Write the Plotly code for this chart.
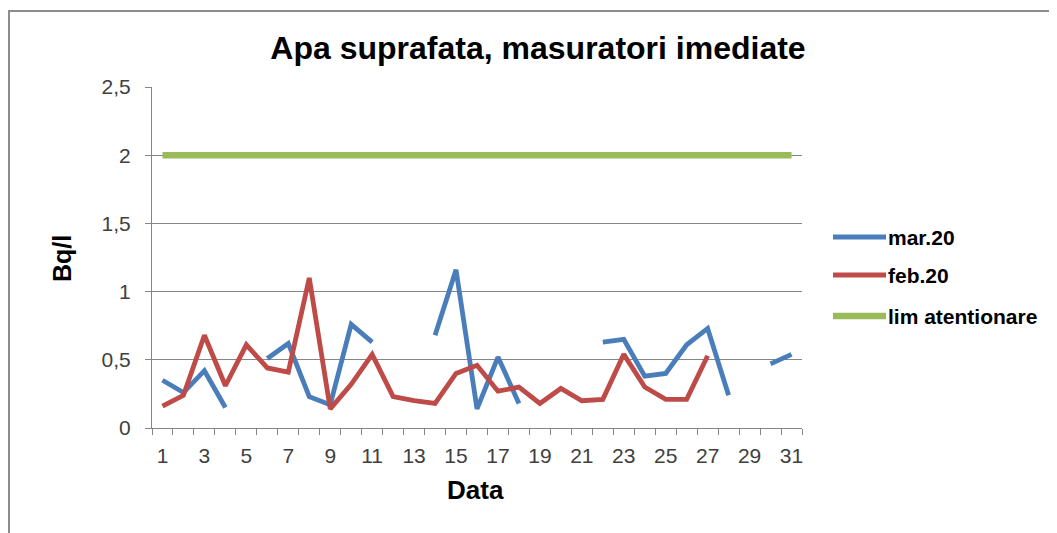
import plotly.graph_objects as go

# ---- data ----
days = list(range(1, 32))
tick_labels = [str(d) for d in range(1, 32, 2)]
mar20 = [0.35, 0.26, 0.42, 0.15, None, 0.51, 0.62, 0.23, 0.17, 0.76, 0.63, None, None, 0.68, 1.16,
         0.14, 0.52, 0.18, None, None, None, 0.63, 0.65, 0.38, 0.40, 0.61, 0.73, 0.24, None, 0.47, 0.54]
feb20 = [0.16, 0.24, 0.68, 0.31, 0.61, 0.44, 0.41, 1.10, 0.14, 0.32, 0.54, 0.23, 0.20, 0.18, 0.40,
         0.46, 0.27, 0.30, 0.18, 0.29, 0.20, 0.21, 0.54, 0.30, 0.21, 0.21, 0.53, None, None, None, None]
lim_atentionare = [2, 2, 2, 2, 2, 2, 2, 2, 2, 2, 2, 2, 2, 2, 2, 2, 2, 2, 2, 2, 2, 2, 2, 2, 2, 2, 2, 2, 2, 2, 2]

series_names = ["mar.20", "feb.20", "lim atentionare"]
series_values = [mar20, feb20, lim_atentionare]
series_colors = ["#4A7EBB", "#BE4B48", "#9BBB59"]
series_widths = [4.8, 4.8, 6.5]

# page has an 8px body margin, so figure coordinates = reference pixels - 8
OFF = 8
W, H = 1057 - 2 * OFF, 533 - OFF
L, R, T, B = 152 - OFF, 802 - OFF, 87 - OFF, 428 - OFF
FONT = "Arial, Liberation Sans, sans-serif"
GRID = "#868686"

fig = go.Figure()
for name, vals, col, w in zip(series_names, series_values, series_colors, series_widths):
    fig.add_trace(go.Scatter(x=days, y=vals, mode="lines", name=name,
                             line=dict(color=col, width=w), showlegend=False,
                             connectgaps=False))

def px_x(px):
    return (px - OFF - L) / (R - L)

def px_y(py):
    return (B - (py - OFF)) / (B - T)

shapes = [
    # outer chart frame
    dict(type="rect", xref="paper", yref="paper", x0=px_x(9), x1=px_x(1080), y0=px_y(11), y1=px_y(560),
         line=dict(color="#8C8C8C", width=2), fillcolor="rgba(0,0,0,0)", layer="below"),
]
annotations = []
legend_y = [237, 275, 316]
for name, col, w, ly in zip(series_names, series_colors, series_widths, legend_y):
    shapes.append(dict(type="line", xref="paper", yref="paper", x0=px_x(833), x1=px_x(886),
                       y0=px_y(ly), y1=px_y(ly), line=dict(color=col, width=w)))
    annotations.append(dict(xref="paper", yref="paper", x=px_x(886), y=px_y(ly), text="<b>%s</b>" % name,
                            showarrow=False, xanchor="left", yanchor="middle",
                            font=dict(family=FONT, size=21, color="#000000")))

annotations.append(dict(xref="paper", yref="paper", x=px_x(62), y=px_y(259), text="<b>Bq/l</b>",
                        textangle=-90, showarrow=False, xanchor="center", yanchor="middle",
                        font=dict(family=FONT, size=25, color="#000000")))
annotations.append(dict(xref="paper", yref="paper", x=px_x(475), y=px_y(490), text="<b>Data</b>",
                        showarrow=False, xanchor="center", yanchor="middle",
                        font=dict(family=FONT, size=26, color="#000000")))

fig.update_layout(
    width=W, height=H,
    margin=dict(l=L, r=W - R, t=T, b=H - B),
    paper_bgcolor="white", plot_bgcolor="white",
    separators=", ",
    title=dict(text="<b>Apa suprafata, masuratori imediate</b>", x=(538 - OFF) / W, xanchor="center",
               y=1 - (48 - OFF) / H, yanchor="middle", yref="container",
               font=dict(family=FONT, size=32, color="#000000")),
    shapes=shapes, annotations=annotations,
)
fig.update_xaxes(range=[0.5, 31.5], tickmode="array", tickvals=list(range(1, 32, 2)), ticktext=tick_labels,
                 ticks="", showgrid=False, showline=True, linecolor=GRID, linewidth=1,
                 zeroline=False, ticklabelstandoff=9,
                 tickfont=dict(family=FONT, size=21, color="#404040"),
                 minor=dict(tickmode="array", tickvals=[d + 0.5 for d in range(0, 32)], ticks="outside",
                            ticklen=6, tickcolor=GRID, tickwidth=1, showgrid=False))
fig.update_yaxes(range=[0, 2.5], dtick=0.5, tick0=0, showgrid=True, gridcolor=GRID, gridwidth=1,
                 showline=True, linecolor=GRID, linewidth=1, zeroline=False,
                 ticks="outside", ticklen=6, tickcolor=GRID, ticklabelstandoff=10,
                 tickfont=dict(family=FONT, size=21, color="#404040"))

fig.write_html("out.html")
